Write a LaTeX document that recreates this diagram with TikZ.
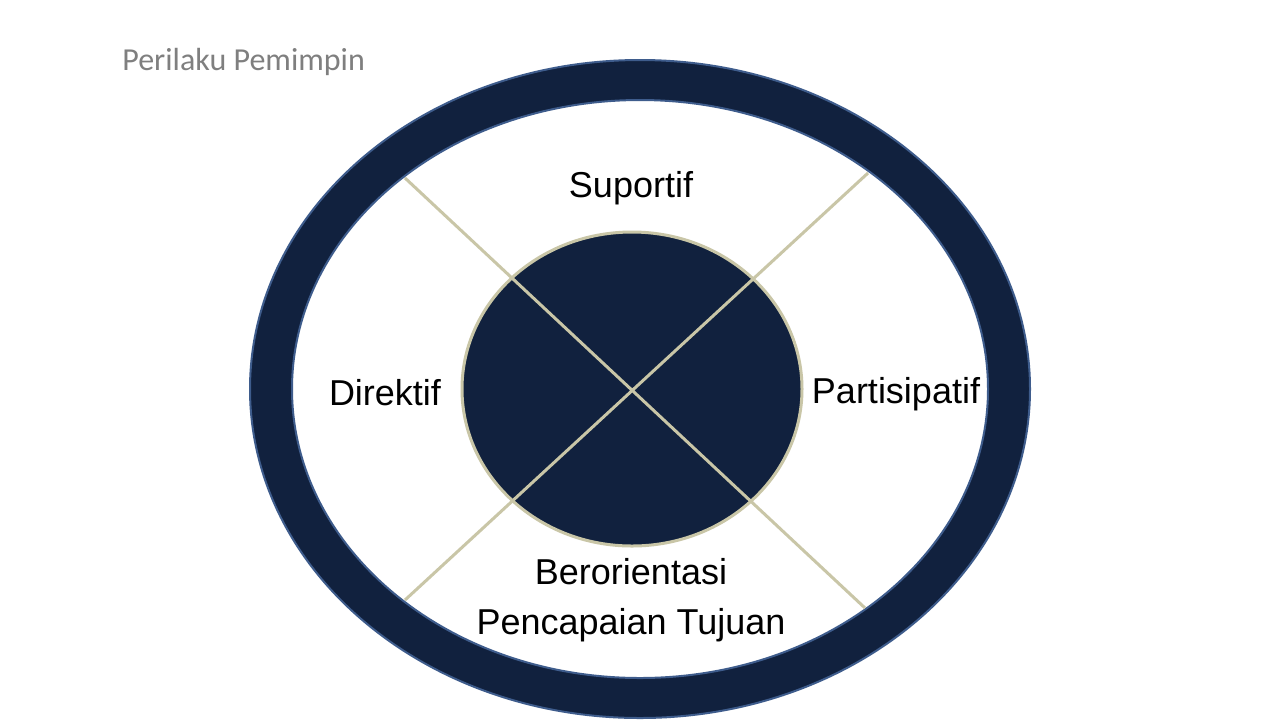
\documentclass[tikz,border=0pt]{standalone}
\usepackage{fontspec}
\setmainfont{Liberation Sans}
\newfontfamily\titlefont{Carlito}
\usetikzlibrary{shapes.geometric}
\definecolor{navy}{HTML}{11213E}
\definecolor{rim}{HTML}{3E5C8C}
\definecolor{khaki}{HTML}{C9C6A7}
\definecolor{titlegray}{HTML}{7F7F7F}
\tikzset{lbl/.style={font=\fontsize{18}{25}\selectfont,text=black,align=center,inner sep=0pt},
  spoke/.style={khaki,line width=1.5pt}}

\begin{document}
\begin{tikzpicture}[x=0.5pt,y=-0.5pt]
\useasboundingbox[fill=white] (0,0) rectangle (1280,720);
\fill[navy,even odd rule] (640,389) ellipse[x radius=195pt,y radius=164.5pt]
  (640,389) ellipse[x radius=174pt,y radius=144.5pt];
\draw[rim,line width=1pt] (640,389) ellipse[x radius=195pt,y radius=164.5pt]
  (640,389) ellipse[x radius=174pt,y radius=144.5pt];
\node[ellipse,fill=navy,draw=khaki,line width=1.5pt,minimum width=170pt,minimum height=157pt] (core) at (632,389) {};
\coordinate (ul) at (405,178); \coordinate (lr) at (865,608);
\coordinate (ur) at (868,173); \coordinate (ll) at (405,600);
\draw[spoke] (ul) -- (lr) (ur) -- (ll);
\node[anchor=west,inner sep=0pt,text=titlegray,font=\titlefont\fontsize{16}{19}\selectfont] (title) at (122,62) {Perilaku Pemimpin};
\node[lbl] (sup) at (631,188) {Suportif};
\node[lbl] (dir) at (385,393) {Direktif};
\node[lbl] (par) at (896,394) {Partisipatif};
\node[lbl] (ber) at (631,600) {Berorientasi\\Pencapaian Tujuan};
\end{tikzpicture}
\end{document}
